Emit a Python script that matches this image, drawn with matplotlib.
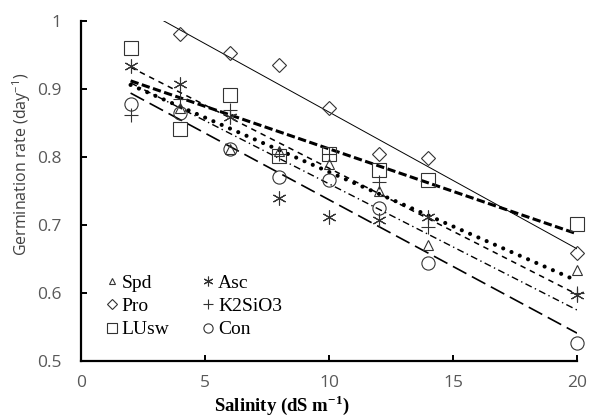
import numpy as np
import matplotlib
matplotlib.use("Agg")
import matplotlib.pyplot as plt

plt.rcParams['mathtext.fontset'] = 'custom'
plt.rcParams['mathtext.rm'] = 'Open Sans'
plt.rcParams['mathtext.bf'] = 'Liberation Serif:bold'
plt.rcParams['lines.scale_dashes'] = False

# salinity levels (dS m-1)
salinity = [2, 4, 6, 8, 10, 12, 14, 20]

# germination rate per treatment (nan = no visible point)
spd = [np.nan, 0.872, 0.812, 0.809, 0.790, 0.750, 0.671, 0.634]
pro = [np.nan, 0.981, 0.953, 0.935, 0.872, 0.805, 0.798, 0.659]
lusw = [0.960, 0.841, 0.891, 0.801, 0.804, 0.781, 0.766, 0.701]
asc = [0.934, 0.907, 0.859, 0.740, 0.712, 0.707, 0.712, 0.597]
k2sio3 = [0.862, 0.885, 0.869, 0.805, 0.804, 0.763, 0.697, 0.600]
con = [0.878, 0.864, 0.812, 0.771, 0.766, 0.725, 0.644, 0.527]

# trend lines: value at x=2 and at x=20
trend_x = [2, 20]
spd_trend = [0.906, 0.618]
pro_trend = [1.027, 0.665]
lusw_trend = [0.912, 0.687]
asc_trend = [0.909, 0.575]
k2sio3_trend = [0.932, 0.598]
con_trend = [0.894, 0.541]

fig = plt.figure(figsize=(5.9, 4.16), dpi=100)
ax = fig.add_axes([81/590, 1-361/416, 496/590, 340/416])

mk = dict(linestyle='none', markerfacecolor='none', markeredgecolor='#333333',
          markeredgewidth=0.8, clip_on=False, zorder=3)

ax.plot(salinity, spd, marker='^', markersize=7, label='Spd', **mk)
ax.plot(salinity, pro, marker='D', markersize=7.5, label='Pro', **mk)
ax.plot(salinity, lusw, marker='s', markersize=9.5, label='LUsw', **mk)
ax.plot(salinity, asc, marker=(6, 2, 0), markersize=10, label='Asc', **mk)
ax.plot(salinity, k2sio3, marker='+', markersize=10, label='K2SiO3', **mk)
ax.plot(salinity, con, marker='o', markersize=9.5, label='Con', **mk)

# trend lines
ax.plot(trend_x, pro_trend, color='black', lw=0.7)
ax.plot(trend_x, lusw_trend, color='black', lw=2.2, dashes=(6, 2.5))
ax.plot(trend_x, spd_trend, color='black', lw=3, dashes=(0.01, 6.5),
        dash_capstyle='round')
ax.plot(trend_x, k2sio3_trend, color='black', lw=1.1, dashes=(4, 3.5))
ax.plot(trend_x, asc_trend, color='black', lw=1.0, dashes=(5, 2.5, 1, 2.5))
ax.plot(trend_x, con_trend, color='black', lw=1.2, dashes=(11, 4.5))

ax.set_xlim(0, 20)
ax.set_ylim(0.5, 1)
ax.set_xticks([0, 5, 10, 15, 20])
ax.set_yticks([0.5, 0.6, 0.7, 0.8, 0.9, 1.0])
ax.set_yticklabels(['0.5', '0.6', '0.7', '0.8', '0.9', '1'])
for s in ['top', 'right']:
    ax.spines[s].set_visible(False)
for s in ['left', 'bottom']:
    ax.spines[s].set_linewidth(1.6)
ax.tick_params(direction='in', length=4, width=1.4, labelsize=12.5,
               labelcolor='#595959', labelfontfamily='Open Sans')
ax.tick_params(axis='y', pad=14)
ax.tick_params(axis='x', pad=10)

fig.text(22/590, 1-164/416, r'Germination rate (day$^{\mathrm{-1}}$)', rotation=90,
         ha='center', va='center', fontsize=11.5, family='Open Sans', color='#404040')
fig.text(282/590, 1-405/416, r'Salinity (dS m$^{\mathbf{-1}}$)', ha='center',
         va='center', fontsize=13.5, family='Liberation Serif', weight='bold')

ax.legend(ncol=2, loc='upper left', bbox_to_anchor=(104/590, 1-274/416),
          bbox_transform=fig.transFigure, frameon=False, borderpad=0,
          borderaxespad=0, handlelength=0.8, handletextpad=0.1,
          columnspacing=1.6, labelspacing=0.3, markerscale=0.7,
          prop={'family': 'Liberation Serif', 'size': 14})

fig.savefig('out.png', dpi=100)
